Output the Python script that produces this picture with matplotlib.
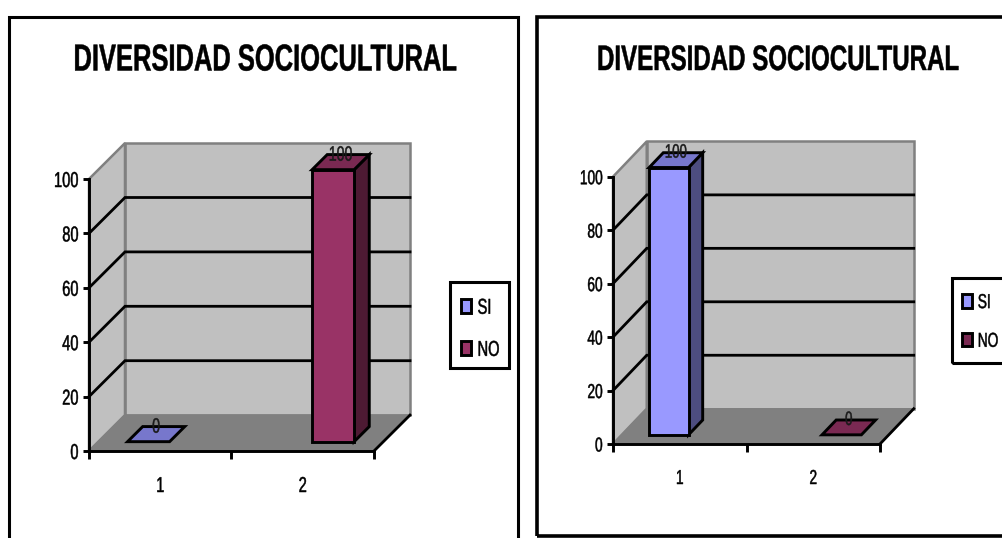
import matplotlib
matplotlib.use('Agg')
import matplotlib.pyplot as plt
from matplotlib.backends.backend_agg import RendererAgg
from matplotlib.patches import Polygon, Rectangle, Patch
from matplotlib.textpath import TextPath
from matplotlib.transforms import Affine2D

plt.rcParams['font.family'] = ['Liberation Sans', 'DejaVu Sans']

W, H = 1003, 538

TITLE = 'DIVERSIDAD SOCIOCULTURAL'
CATEGORIES = ['1', '2']
SERIES = ['SI', 'NO']
Y_TICKS = [0, 20, 40, 60, 80, 100]

# valores de cada grafico, None = sin barra
SI_A = [0, None]
NO_A = [None, 100]
SI_B = [100, None]
NO_B = [None, 0]

# colores (frente, techo, lado)
COLORS = {
    'SI': ('#9999FF', '#7777CC', '#4D4D80'),
    'NO': ('#993366', '#7A2952', '#4D1A33'),
}

# profundidad del cubo en unidades de datos
DX = 0.2526
DY = 13.2
BAR_W = 0.295
BAR_D0 = 0.26
BAR_D1 = 0.68

# letra angosta: no hay Arial Narrow, se comprime el texto al dibujarlo
TEXT_XSCALE = 0.68
_text_metrics = RendererAgg.get_text_width_height_descent


def narrow_metrics(self, s, prop, ismath):
    w, h, d = _text_metrics(self, s, prop, ismath)
    return w * TEXT_XSCALE, h, d


def narrow_draw_text(self, gc, x, y, s, prop, angle, ismath=False, mtext=None):
    size = prop.get_size_in_points() * self.dpi / 72
    path = TextPath((0, 0), s, size=size, prop=prop)
    tr = Affine2D().scale(TEXT_XSCALE, 1).rotate_deg(angle).translate(x, self.height - y)
    gc.set_linewidth(0.35)
    self.draw_path(gc, path, tr, gc.get_rgb())


RendererAgg.get_text_width_height_descent = narrow_metrics
RendererAgg.draw_text = narrow_draw_text

fig = plt.figure(figsize=(W / 100, H / 100), dpi=100, facecolor='white')


def add_frame(x0, y0, x1, y1, lw, z=1):
    fig.add_artist(Rectangle((x0 / W, 1 - y1 / H), (x1 - x0) / W, (y1 - y0) / H,
                             transform=fig.transFigure, fill=False,
                             edgecolor='black', linewidth=lw, clip_on=False, zorder=z))


def poly(ax, pts, face, edge='black', lw=2.1, z=3):
    ax.add_patch(Polygon(pts, closed=True, facecolor=face, edgecolor=edge,
                         linewidth=lw, zorder=z, clip_on=False, joinstyle='miter'))


def draw_bar(ax, left, value, colors, z, label_size):
    # barra oblicua: frente, techo y lado
    d0x, d0y = DX * BAR_D0, DY * BAR_D0
    d1x, d1y = DX * BAR_D1, DY * BAR_D1
    x0 = left + d0x
    x1 = x0 + BAR_W
    y0 = d0y
    y1 = value + d0y
    shift_x, shift_y = d1x - d0x, d1y - d0y
    if value > 0:
        poly(ax, [(x1, y0), (x1 + shift_x, y0 + shift_y), (x1 + shift_x, y1 + shift_y), (x1, y1)], colors[2], z=z)
        poly(ax, [(x0, y0), (x1, y0), (x1, y1), (x0, y1)], colors[0], z=z)
    poly(ax, [(x0, y1), (x1, y1), (x1 + shift_x, y1 + shift_y), (x0 + shift_x, y1 + shift_y)], colors[1], z=z)
    ax.annotate(str(value), ((x0 + x1 + shift_x) / 2, y1 + shift_y / 2),
                xytext=(0, 5), textcoords='offset points', ha='center', va='center',
                fontsize=label_size, color='#1A1A1A', zorder=z + 1, annotation_clip=False)


def draw_chart(x0, x1, y0, y100, si, no, title_x, title_size, font_size, legend_box, no_swatch):
    ax = fig.add_axes([x0 / W, 1 - y0 / H, (x1 - x0) / W, (y0 - y100) / H])
    ax.set_xlim(0, len(CATEGORIES))
    ax.set_ylim(0, 100)
    ax.patch.set_visible(False)

    ymax = Y_TICKS[-1]
    xmax = len(CATEGORIES)
    # paredes y piso
    poly(ax, [(DX, DY), (xmax + DX, DY), (xmax + DX, ymax + DY), (DX, ymax + DY)],
         '#C0C0C0', edge='#808080', lw=1.8, z=1)
    poly(ax, [(0, 0), (DX, DY), (DX, ymax + DY), (0, ymax)], '#C0C0C0', edge='#808080', lw=1.8, z=1)
    poly(ax, [(0, 0), (xmax, 0), (xmax + DX, DY), (DX, DY)], '#808080', edge='#808080', lw=1, z=1)
    ax.plot([xmax, xmax + DX], [0, DY], color='black', lw=2, zorder=2, clip_on=False)

    # lineas de division
    for v in Y_TICKS[1:-1]:
        ax.plot([0, DX, xmax + DX], [v, v + DY, v + DY], color='black', lw=2,
                zorder=2, clip_on=False, solid_joinstyle='miter')

    for i in range(len(CATEGORIES)):
        if si[i] is not None:
            draw_bar(ax, i + 0.5 - BAR_W, si[i], COLORS['SI'], 4 + i, font_size - 0.5)
        if no[i] is not None:
            draw_bar(ax, i + 0.5, no[i], COLORS['NO'], 4 + i, font_size - 0.5)

    for name in ['top', 'right']:
        ax.spines[name].set_visible(False)
    for name in ['left', 'bottom']:
        ax.spines[name].set_linewidth(2.1)
        ax.spines[name].set_zorder(3)
    ax.set_yticks(Y_TICKS)
    ax.set_xticks(range(len(CATEGORIES) + 1))
    ax.set_xticklabels([])
    ax.set_xticks([i + 0.5 for i in range(len(CATEGORIES))], CATEGORIES, minor=True)
    ax.tick_params(axis='y', length=4.5, width=2.1, pad=3, labelsize=font_size)
    ax.tick_params(axis='x', which='major', length=5.5, width=2.1)
    ax.tick_params(axis='x', which='minor', length=0, pad=18, labelsize=font_size)

    fig.text(title_x / W, 1 - 60.5 / H, TITLE, ha='center', va='center',
             fontsize=title_size, fontweight='bold', color='black')

    # leyenda sin marco propio, el recuadro va aparte
    lx0, ly0, lx1, ly1 = legend_box
    add_frame(lx0, ly0, lx1, ly1, 2.2, z=2)
    handles = [Patch(facecolor=COLORS['SI'][0], edgecolor='black', linewidth=2.1),
               Patch(facecolor=no_swatch, edgecolor='black', linewidth=2.1)]
    ax.legend(handles, SERIES, loc='upper left', ncol=1, fontsize=font_size,
              bbox_to_anchor=(lx0 / W, 1 - (ly0 + 5) / H),
              bbox_transform=fig.transFigure, borderaxespad=0, borderpad=0.5,
              labelspacing=0.98, handlelength=0.48, handleheight=0.65,
              handletextpad=0.3, frameon=False)
    return ax


add_frame(9, 16.5, 518, 560, 2.2)
add_frame(537, 17, 1030, 536, 2.6)

draw_chart(89, 374, 451, 179, SI_A, NO_A, 265, 27, 15.5, (450, 282, 509, 368), COLORS['NO'][0])
draw_chart(613, 880, 444, 176.7, SI_B, NO_B, 778, 25.5, 14.5, (952, 278, 1030, 363), COLORS['NO'][1])

fig.savefig('out.png', dpi=100)
